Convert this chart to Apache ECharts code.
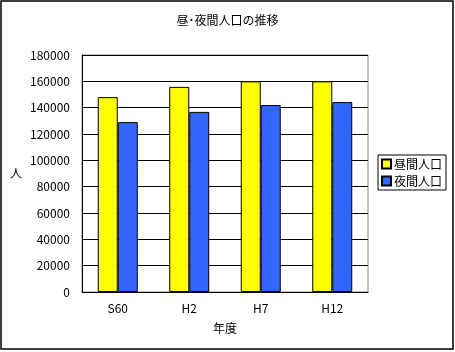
<!DOCTYPE html>
<html>
<head>
<meta charset="utf-8">
<script src="https://cdn.jsdelivr.net/npm/echarts@6/dist/echarts.min.js"></script>
<style>
 html,body{margin:0;padding:0;background:#fff;}
 #container{width:455px;height:352px;}
</style>
</head>
<body>
<div id="container"></div>
<script>
var years = ["S60", "H2", "H7", "H12"];
var dayPop = [148000, 155800, 160000, 160000];   // 昼間人口
var nightPop = [129000, 136800, 142000, 144200]; // 夜間人口
var yTicks = [0, 180000, 20000]; // min, max, step

var fnt = "'Noto Sans CJK JP', sans-serif";
var dom = document.getElementById("container");
var myChart = echarts.init(dom);
var option = {
    backgroundColor: '#fff',
    textStyle: {fontFamily: fnt, color: '#000'},
    title: {
        text: '昼･夜間人口の推移',
        left: 'center', top: 9,
        textStyle: {fontSize: 12, fontWeight: 'normal', color: '#000', fontFamily: fnt}
    },
    graphic: [{
        type: 'rect', silent: true,
        shape: {x: 1, y: 1, width: 452, height: 348},
        style: {fill: 'none', stroke: '#000', lineWidth: 1.5}
    }],
    legend: {
        orient: 'vertical', left: 378, top: 155,
        borderColor: '#000', borderWidth: 1, padding: [3, 4, 3, 3],
        itemWidth: 9, itemHeight: 9, itemGap: 5, icon: 'rect',
        textStyle: {fontSize: 12, color: '#000', fontFamily: fnt, padding: [0, 0, 0, -2]},
        data: ['昼間人口', '夜間人口']
    },
    grid: {
        left: 82, top: 55, width: 286, height: 237,
        show: true, borderColor: '#888', borderWidth: 1, containLabel: false
    },
    xAxis: {
        type: 'category', data: years,
        name: '年度', nameLocation: 'middle', nameGap: 30,
        nameTextStyle: {fontSize: 12, color: '#000', fontFamily: fnt},
        axisLine: {lineStyle: {color: '#000'}},
        axisTick: {inside: true, length: 4, lineStyle: {color: '#000'}},
        axisLabel: {fontSize: 12, color: '#000', margin: 10, fontFamily: fnt}
    },
    yAxis: {
        type: 'value', min: yTicks[0], max: yTicks[1], interval: yTicks[2],
        name: '人', nameLocation: 'middle', nameGap: 60, nameRotate: 0,
        nameTextStyle: {fontSize: 12, color: '#000', fontFamily: fnt},
        axisLine: {show: true, lineStyle: {color: '#000'}},
        axisTick: {show: false},
        splitLine: {lineStyle: {color: '#000'}},
        axisLabel: {fontSize: 12, color: '#000', margin: 12, fontFamily: fnt,
            formatter: function(v){return String(v);}}
    },
    series: [
        {
            name: '昼間人口', type: 'bar', data: dayPop,
            barWidth: 20, barGap: '0%',
            itemStyle: {color: '#FFFF00', borderColor: '#000', borderWidth: 1}
        },
        {
            name: '夜間人口', type: 'bar', data: nightPop,
            barWidth: 20, barGap: '0%',
            itemStyle: {color: '#3366FF', borderColor: '#000', borderWidth: 1}
        }
    ]
};
myChart.setOption(option, true);
</script>
</body>
</html>
